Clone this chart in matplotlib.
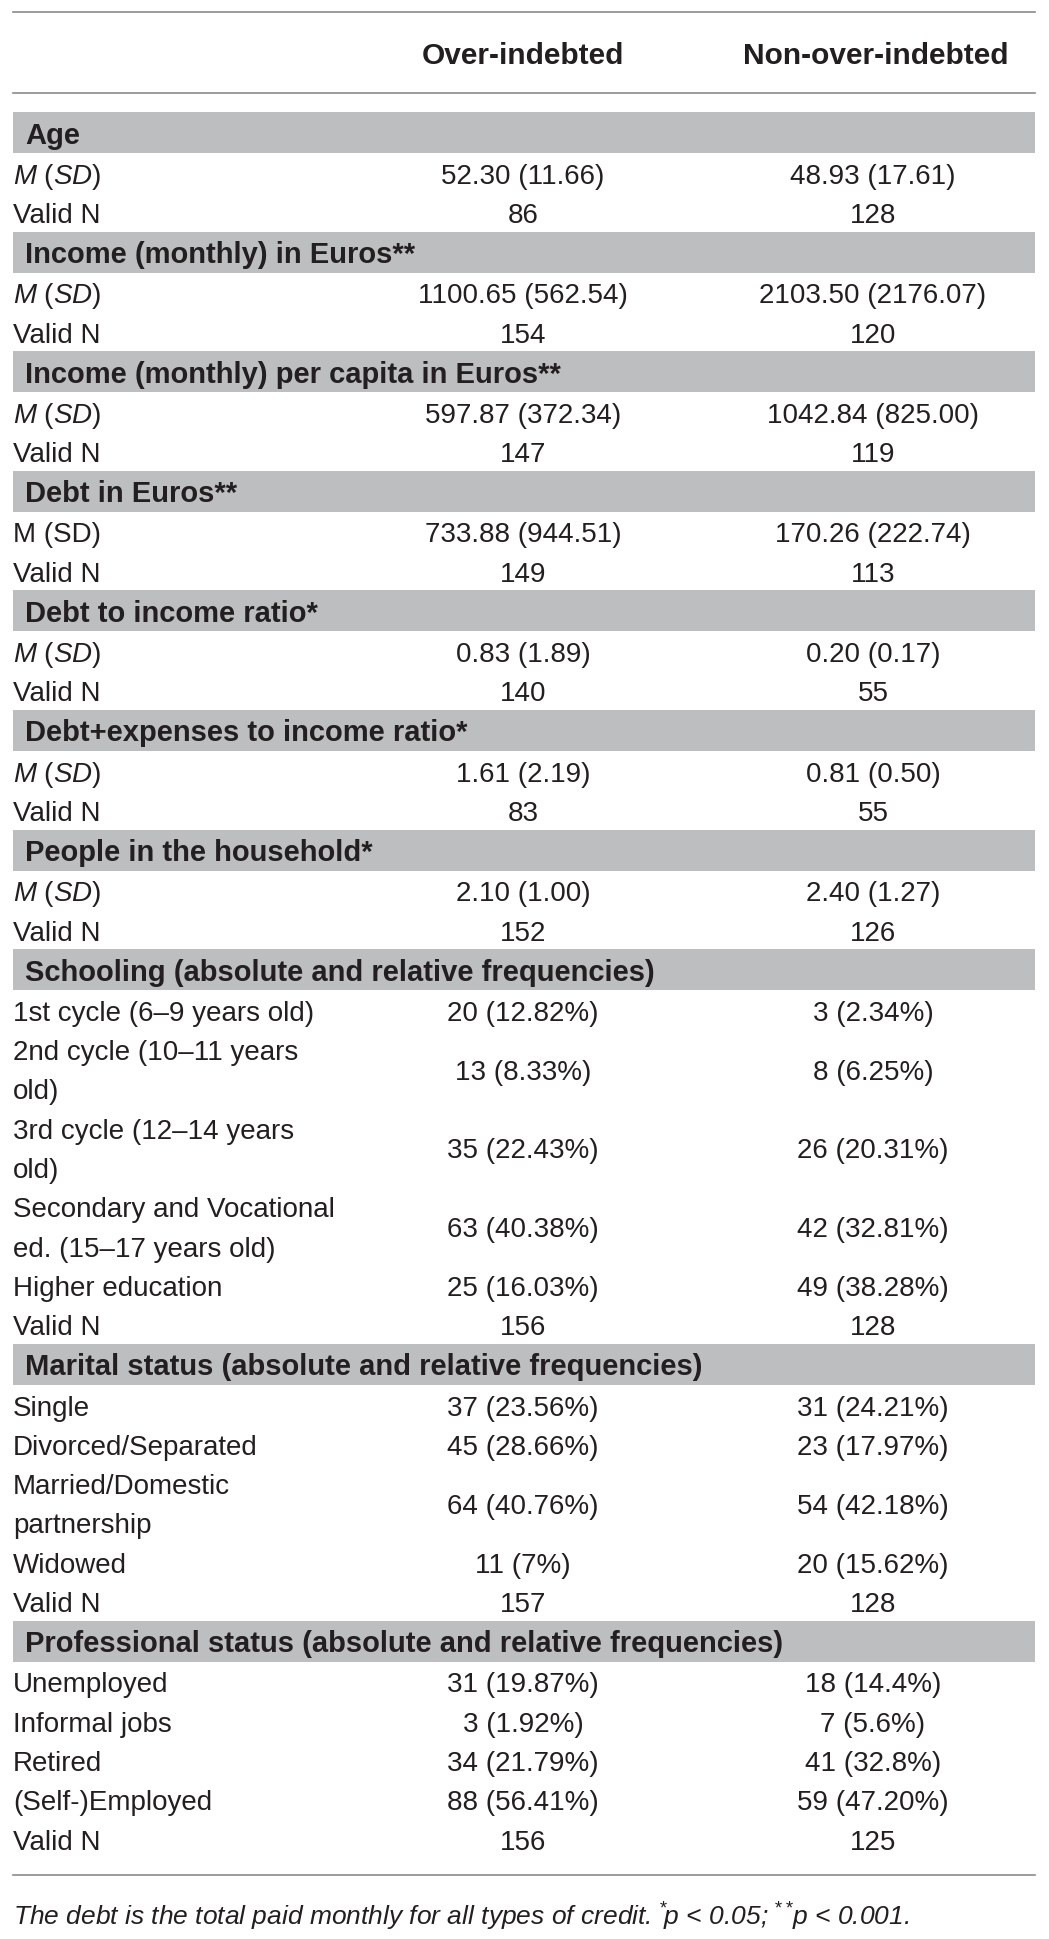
import matplotlib
matplotlib.use("Agg")
import matplotlib.pyplot as plt
from matplotlib.patches import Rectangle

plt.rcParams['font.family'] = ['Liberation Sans', 'DejaVu Sans']
plt.rcParams['mathtext.fontset'] = 'custom'
plt.rcParams['mathtext.rm'] = 'Liberation Sans'
plt.rcParams['mathtext.it'] = 'Liberation Sans:italic'
plt.rcParams['mathtext.bf'] = 'Liberation Sans:bold'

###############################################################################
# Table data
col_headers = ['Over-indebted', 'Non-over-indebted']

sections = ['Age',
            'Income (monthly) in Euros**',
            'Income (monthly) per capita in Euros**',
            'Debt in Euros**',
            'Debt to income ratio*',
            'Debt+expenses to income ratio*',
            'People in the household*',
            'Schooling (absolute and relative frequencies)',
            'Marital status (absolute and relative frequencies)',
            'Professional status (absolute and relative frequencies)']

MSD = r'$M$ ($SD$)'
row_labels = [
    [MSD, 'Valid N'],
    [MSD, 'Valid N'],
    [MSD, 'Valid N'],
    ['M (SD)', 'Valid N'],
    [MSD, 'Valid N'],
    [MSD, 'Valid N'],
    [MSD, 'Valid N'],
    ['1st cycle (6–9 years old)', '2nd cycle (10–11 years\nold)',
     '3rd cycle (12–14 years\nold)', 'Secondary and Vocational\ned. (15–17 years old)',
     'Higher education', 'Valid N'],
    ['Single', 'Divorced/Separated', 'Married/Domestic\npartnership', 'Widowed', 'Valid N'],
    ['Unemployed', 'Informal jobs', 'Retired', '(Self-)Employed', 'Valid N'],
]

over = [
    ['52.30 (11.66)', '86'],
    ['1100.65 (562.54)', '154'],
    ['597.87 (372.34)', '147'],
    ['733.88 (944.51)', '149'],
    ['0.83 (1.89)', '140'],
    ['1.61 (2.19)', '83'],
    ['2.10 (1.00)', '152'],
    ['20 (12.82%)', '13 (8.33%)', '35 (22.43%)', '63 (40.38%)', '25 (16.03%)', '156'],
    ['37 (23.56%)', '45 (28.66%)', '64 (40.76%)', '11 (7%)', '157'],
    ['31 (19.87%)', '3 (1.92%)', '34 (21.79%)', '88 (56.41%)', '156'],
]

non_over = [
    ['48.93 (17.61)', '128'],
    ['2103.50 (2176.07)', '120'],
    ['1042.84 (825.00)', '119'],
    ['170.26 (222.74)', '113'],
    ['0.20 (0.17)', '55'],
    ['0.81 (0.50)', '55'],
    ['2.40 (1.27)', '126'],
    ['3 (2.34%)', '8 (6.25%)', '26 (20.31%)', '42 (32.81%)', '49 (38.28%)', '128'],
    ['31 (24.21%)', '23 (17.97%)', '54 (42.18%)', '20 (15.62%)', '128'],
    ['18 (14.4%)', '7 (5.6%)', '41 (32.8%)', '59 (47.20%)', '125'],
]

footnote = (r'The debt is the total paid monthly for all types of credit. '
            r'$^{*}\!p$ < 0.05; $^{**}\!p$ < 0.001.')

###############################################################################
# Layout (pixels)
W, H = 1049, 1940
left, right = 13, 1035
col_x = [523, 873]
band_h = 41
line_h = 39.3
txt = '#231f20'
band_col = '#bcbec0'
rule_col = '#8a8a8a'
fs = 20
fs_b = 21

fig = plt.figure(figsize=(W / 100, H / 100), dpi=100)
ax = fig.add_axes([0, 0, 1, 1])
ax.set_xlim(0, W)
ax.set_ylim(H, 0)
ax.axis('off')

# header
ax.plot([left, right], [13, 13], color=rule_col, lw=1.2)
ax.plot([left, right], [94, 94], color=rule_col, lw=1.2)
ax.text(col_x[0], 64, col_headers[0], ha='center', va='baseline',
        fontsize=21.5, fontweight='bold', color=txt)
ax.text(col_x[1] + 3, 64, col_headers[1], ha='center', va='baseline',
        fontsize=21.5, fontweight='bold', color=txt)

y = 113
for s, name in enumerate(sections):
    ax.add_patch(Rectangle((left, y), right - left, band_h, color=band_col, lw=0))
    ax.text(25, y + band_h / 2 + 10, name, ha='left', va='baseline',
            fontsize=fs_b, fontweight='bold', color=txt)
    y += band_h
    for lab, v1, v2 in zip(row_labels[s], over[s], non_over[s]):
        parts = lab.split('\n')
        for i, p in enumerate(parts):
            ax.text(left, y + line_h * (i + 0.5) + 10, p, ha='left', va='baseline',
                    fontsize=fs, color=txt)
        mid = y + line_h * len(parts) / 2 + 10
        ax.text(col_x[0], mid, v1, ha='center', va='baseline', fontsize=fs, color=txt)
        ax.text(col_x[1], mid, v2, ha='center', va='baseline', fontsize=fs, color=txt)
        y += line_h * len(parts)

# bottom rule and note
ax.plot([left, right], [1876, 1876], color=rule_col, lw=1.2)
ax.text(left, 1926, footnote, ha='left', va='baseline', fontsize=19,
        fontstyle='italic', color=txt)

fig.savefig('out.png', dpi=100, facecolor='white')
